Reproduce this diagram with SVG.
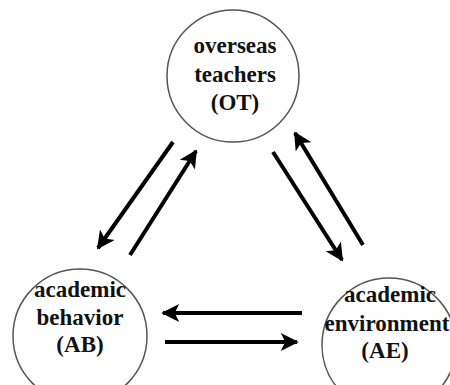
<svg xmlns="http://www.w3.org/2000/svg" width="450" height="385" viewBox="0 0 450 385">
<style>
.node circle{fill:#fff;stroke:#555;stroke-width:1.5}
.node text{font-size:23px;font-weight:bold;fill:#111;text-anchor:middle}
.conn line{stroke:#000;stroke-width:4;marker-end:url(#ah)}
</style>
<defs>
<marker id="ah" viewBox="0 0 10 10" refX="9" refY="5" markerWidth="5" markerHeight="4.5" markerUnits="strokeWidth" orient="auto">
<path d="M0,0 L10,5 L0,10 L2.5,5 z" fill="#000"/>
</marker>
</defs>
<rect width="450" height="385" fill="#fff"/>
<g font-family="Liberation Serif, DejaVu Serif, serif">
<g id="OT" class="node">
<circle cx="233" cy="76" r="66"/>
<text x="235" y="53">overseas</text>
<text x="235" y="82">teachers</text>
<text x="235" y="110">(OT)</text>
</g>
<g id="AB" class="node">
<circle cx="80" cy="336" r="67"/>
<text x="80" y="297">academic</text>
<text x="80" y="325">behavior</text>
<text x="80" y="352">(AB)</text>
</g>
<g id="AE" class="node">
<circle cx="389" cy="345" r="67"/>
<text x="390" y="302">academic</text>
<text x="387" y="331">environment</text>
<text x="385" y="358">(AE)</text>
</g>
</g>
<g id="connectors" class="conn">
<line x1="173" y1="142" x2="98" y2="248"/>
<line x1="130" y1="255" x2="196" y2="151"/>
<line x1="273" y1="152" x2="342" y2="260"/>
<line x1="363" y1="245" x2="295" y2="133"/>
<line x1="302" y1="313" x2="163" y2="313"/>
<line x1="165" y1="342" x2="297" y2="342"/>
</g>
</svg>
